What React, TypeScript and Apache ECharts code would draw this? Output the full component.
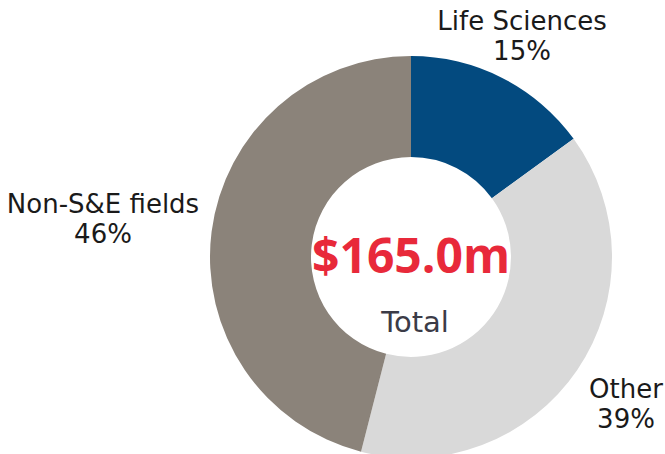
import React, { useEffect, useRef } from "react";
import * as echarts from "echarts";

const categories = ["Life Sciences", "Other", "Non-S&E fields"];
const shares = [15, 39, 46];
const colors = ["#034a7f", "#d9d9d9", "#8b837a"];
const totalLabel = "$165.0m";
const totalCaption = "Total";

const FONT = "'DejaVu Sans', sans-serif";
const BOLD = "'Open Sans', sans-serif";

export default function App() {
  const ref = useRef<HTMLDivElement>(null);
  useEffect(() => {
    if (!ref.current) return;
    const chart = echarts.init(ref.current, null, { renderer: "svg" });
    const labelPos = [
      { x: 522, y: 36 },
      { x: 626, y: 404 },
      { x: 103, y: 219 },
    ];
    chart.setOption({
      animation: false,
      backgroundColor: "#ffffff",
      series: [
        {
          type: "pie",
          center: [411, 257],
          radius: [100, 201],
          startAngle: 90,
          clockwise: true,
          silent: true,
          label: { show: false },
          labelLine: { show: false },
          itemStyle: { borderWidth: 0 },
          data: categories.map((c, i) => ({
            name: c,
            value: shares[i],
            itemStyle: { color: colors[i] },
          })),
        },
      ],
      graphic: [
        ...categories.map((c, i) => ({
          type: "text",
          x: labelPos[i].x,
          y: labelPos[i].y,
          style: {
            text: `${c}\n${shares[i]}%`,
            fill: "#1a1a1a",
            font: `400 26px ${FONT}`,
            lineHeight: 30,
            align: "center",
            verticalAlign: "middle",
          },
        })),
        {
          type: "text",
          x: 411,
          y: 254,
          style: {
            text: totalLabel,
            fill: "#e8293a",
            font: `700 48px ${BOLD}`,
            align: "center",
            verticalAlign: "middle",
          },
        },
        {
          type: "text",
          x: 415,
          y: 322,
          style: {
            text: totalCaption,
            fill: "#3b3b47",
            font: `400 29px ${FONT}`,
            align: "center",
            verticalAlign: "middle",
          },
        },
      ],
    });
    return () => chart.dispose();
  }, []);
  return <div ref={ref} style={{ width: 665, height: 454, position: "absolute", left: 0, top: 0 }} />;
}
